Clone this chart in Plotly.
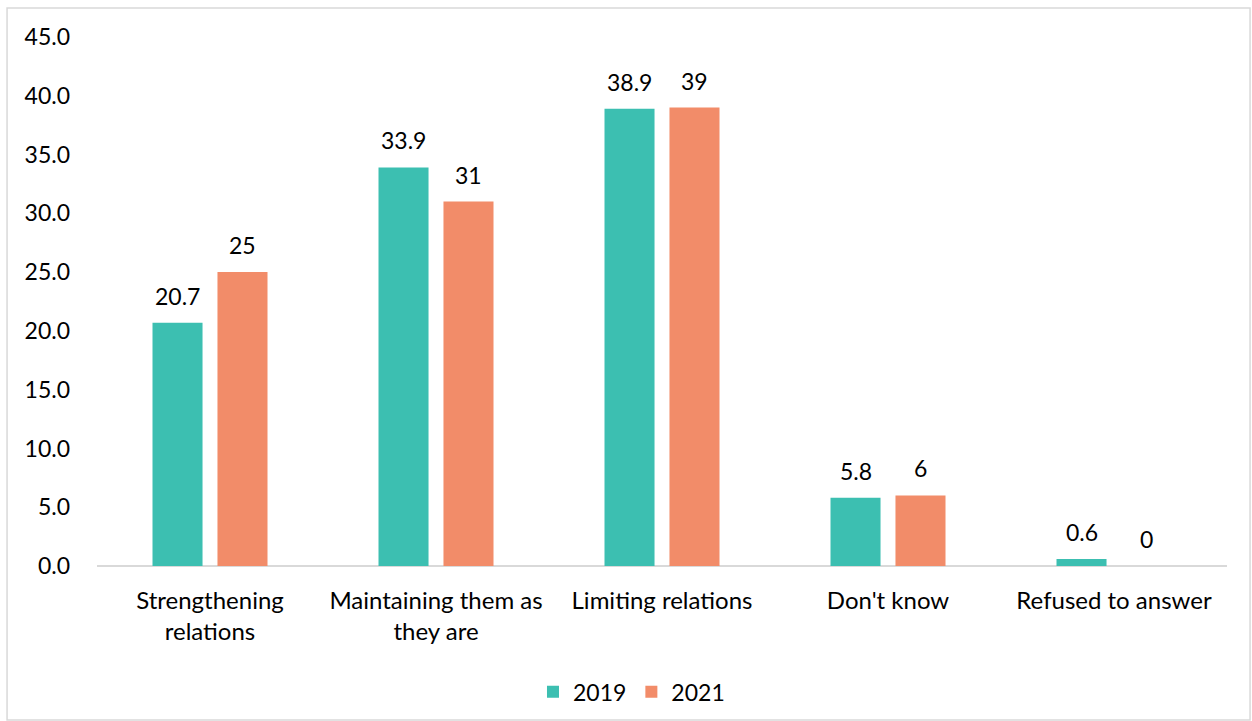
import plotly.graph_objects as go

categories = [
    "Strengthening<br>relations",
    "Maintaining them as<br>they are",
    "Limiting relations",
    "Don't know",
    "Refused to answer",
]
values_2019 = [20.7, 33.9, 38.9, 5.8, 0.6]
values_2021 = [25, 31, 39, 6, 0]
y_ticks = [0, 5, 10, 15, 20, 25, 30, 35, 40, 45]

TEAL = "#3CBFB1"
SALMON = "#F28C69"
FONT = "Lato"
NUM_SIZE = 23
CAT_SIZE = 24

# each bar is offset from its category centre by half a slot (in pixels)
BAR_OFFSET = 32.5


def fmt(v):
    return f"{v:g}"


fig = go.Figure()
fig.add_trace(go.Bar(
    name="2019", x=categories, y=values_2019,
    marker=dict(color=TEAL, line=dict(width=0)),
))
fig.add_trace(go.Bar(
    name="2021", x=categories, y=values_2021,
    marker=dict(color=SALMON, line=dict(width=0)),
))

# value labels above each bar
for vals, shift in ((values_2019, -BAR_OFFSET), (values_2021, BAR_OFFSET)):
    for cat, v in zip(categories, vals):
        fig.add_annotation(
            x=cat, y=v, text=fmt(v), showarrow=False,
            xshift=shift, yshift=27, yanchor="middle", xanchor="center",
            font=dict(size=NUM_SIZE, color="#000000", family=FONT),
        )

fig.update_layout(
    width=1252, height=721,
    margin=dict(l=97, r=25, t=37, b=155, autoexpand=False),
    paper_bgcolor="white", plot_bgcolor="white",
    font=dict(family=FONT, size=NUM_SIZE, color="#000000"),
    barmode="group", bargap=0.425, bargroupgap=0.23,
    showlegend=True,
    legend=dict(orientation="h", x=0.473, xanchor="center", y=-0.197, yanchor="top",
                font=dict(size=NUM_SIZE), itemwidth=30, traceorder="normal"),
)
fig.update_xaxes(
    showgrid=False, showline=False, zeroline=False, ticks="", automargin=False,
    tickfont=dict(size=CAT_SIZE), ticklabelstandoff=18,
)
fig.update_yaxes(
    range=[0, 45], tickvals=y_ticks, tickformat=".1f", automargin=False,
    showgrid=False, showline=False, zeroline=True, zerolinecolor="#D9D9D9",
    zerolinewidth=2, ticks="", tickfont=dict(size=NUM_SIZE), ticklabelstandoff=26,
)

# outer chart border
fig.add_shape(type="rect", xref="paper", yref="paper",
              x0=-0.0796, x1=1.0204, y0=-0.291, y1=1.0548,
              line=dict(color="#D9D9D9", width=1.5), layer="below")

fig.write_html("out.html")
